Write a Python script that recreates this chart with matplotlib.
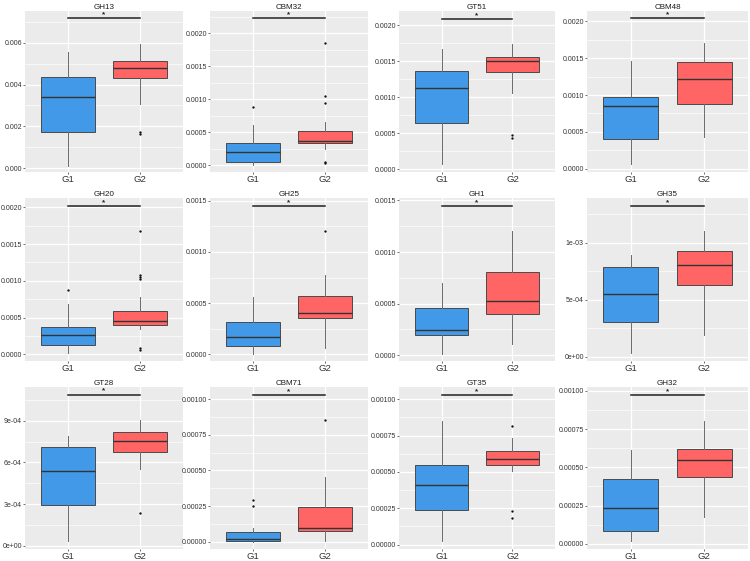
import matplotlib
matplotlib.use("Agg")
import matplotlib.pyplot as plt
from matplotlib.ticker import FixedLocator, FixedFormatter

# ---------------- data ----------------
panel_names = ["GH13", "CBM32", "GT51", "CBM48",
               "GH20", "GH25", "GH1", "GH35",
               "GT28", "CBM71", "GT35", "GH32"]
groups = ["G1", "G2"]

# per panel stats: [whislo, q1, median, q3, whishi]
g1_stats = [
    [0.00011, 0.00173, 0.00340, 0.00435, 0.00554],
    [0.00000, 0.00005, 0.00020, 0.000335, 0.00061],
    [0.00007, 0.000647, 0.00113, 0.00137, 0.00167],
    [0.000058, 0.000404, 0.000848, 0.000978, 0.001457],
    [0.0000226, 0.000122, 0.000267, 0.000367, 0.00069],
    [0.00000, 0.000078, 0.000166, 0.000313, 0.000564],
    [0.000016, 0.00020, 0.000248, 0.00046, 0.000698],
    [0.000029, 0.000307, 0.000547, 0.000792, 0.000898],
    [0.000031, 0.000295, 0.000538, 0.00071, 0.00079],
    [0.00000, 0.0000092, 0.000023, 0.0000716, 0.0000993],
    [0.0000226, 0.000238, 0.00041, 0.00055, 0.000853],
    [0.0000172, 0.000084, 0.000235, 0.000425, 0.000612],
]
g2_stats = [
    [0.00305, 0.00430, 0.00480, 0.00514, 0.00594],
    [0.00025, 0.000335, 0.000365, 0.000515, 0.00066],
    [0.00106, 0.001358, 0.00150, 0.00156, 0.00174],
    [0.00043, 0.000874, 0.00122, 0.001453, 0.00170],
    [0.000348, 0.000398, 0.00046, 0.000588, 0.00078],
    [0.000065, 0.000352, 0.000404, 0.000567, 0.000776],
    [0.000113, 0.000399, 0.000528, 0.000808, 0.001207],
    [0.000187, 0.000634, 0.000807, 0.000933, 0.001102],
    [0.000552, 0.000676, 0.000752, 0.000817, 0.000905],
    [0.0000092, 0.000076, 0.0000993, 0.000245, 0.000453],
    [0.000505, 0.000545, 0.00059, 0.000647, 0.000735],
    [0.000177, 0.000435, 0.000547, 0.000621, 0.000806],
]
g1_outliers = [
    [], [0.000875], [], [], [0.00088], [], [], [], [],
    [0.000291, 0.000249], [], [],
]
g2_outliers = [
    [0.00165, 0.00172],
    [0.00185, 0.00104, 0.00094, 0.000035, 0.00005],
    [0.00047, 0.00043],
    [],
    [0.00168, 0.00108, 0.00105, 0.00102, 0.00009, 0.000054],
    [0.001207],
    [], [],
    [0.000238],
    [0.000855],
    [0.000817, 0.000231, 0.000186],
    [],
]
sig_height = [0.00718, 0.002225, 0.00209, 0.002045, 0.00202, 0.001448,
              0.001448, 0.001327, 0.001088, 0.001028, 0.001027, 0.000972]
sig_label = "*"

y_ticks = [
    [0.000, 0.002, 0.004, 0.006],
    [0.0, 0.0005, 0.0010, 0.0015, 0.0020],
    [0.0, 0.0005, 0.0010, 0.0015, 0.0020],
    [0.0, 0.0005, 0.0010, 0.0015, 0.0020],
    [0.0, 0.0005, 0.0010, 0.0015, 0.0020],
    [0.0, 0.0005, 0.0010, 0.0015],
    [0.0, 0.0005, 0.0010, 0.0015],
    [0.0, 0.0005, 0.0010],
    [0.0, 0.0003, 0.0006, 0.0009],
    [0.0, 0.00025, 0.0005, 0.00075, 0.0010],
    [0.0, 0.00025, 0.0005, 0.00075, 0.0010],
    [0.0, 0.00025, 0.0005, 0.00075, 0.0010],
]
y_tick_labels = [
    ["0.000", "0.002", "0.004", "0.006"],
    ["0.0000", "0.0005", "0.0010", "0.0015", "0.0020"],
    ["0.0000", "0.0005", "0.0010", "0.0015", "0.0020"],
    ["0.0000", "0.0005", "0.0010", "0.0015", "0.0020"],
    ["0.0000", "0.0005", "0.0010", "0.0015", "0.0020"],
    ["0.0000", "0.0005", "0.0010", "0.0015"],
    ["0.0000", "0.0005", "0.0010", "0.0015"],
    ["0e+00", "5e-04", "1e-03"],
    ["0e+00", "3e-04", "6e-04", "9e-04"],
    ["0.00000", "0.00025", "0.00050", "0.00075", "0.00100"],
    ["0.00000", "0.00025", "0.00050", "0.00075", "0.00100"],
    ["0.00000", "0.00025", "0.00050", "0.00075", "0.00100"],
]
y_limits = [
    (-0.00019, 0.00752), (-0.000105, 0.002335), (-0.00004, 0.00220), (-0.000045, 0.00214),
    (-0.00009, 0.002127), (-0.000065, 0.001526), (-0.000055, 0.001523), (-0.000038, 0.001395),
    (-0.000024, 0.001143), (-0.00005, 0.001085), (-0.00003, 0.001084), (-0.0000345, 0.001026),
]

# ---------------- layout / style ----------------
W, H = 750, 561
col_x = [(25, 183), (210, 368), (399, 555), (587, 748)]
row_y = [(11, 172), (198, 361), (387, 549)]
colors = ["#4199E8", "#FF6565"]
bg = "#EBEBEB"

plt.rcParams["font.family"] = ["Liberation Sans", "DejaVu Sans"]
fig = plt.figure(figsize=(W / 100, H / 100), dpi=100)
fig.patch.set_facecolor("white")

for i, name in enumerate(panel_names):
    r, c = divmod(i, 4)
    x0, x1 = col_x[c]
    yt, yb = row_y[r]
    ax = fig.add_axes([x0 / W, 1 - yb / H, (x1 - x0) / W, (yb - yt) / H])
    ax.set_facecolor(bg)
    for s in ax.spines.values():
        s.set_visible(False)

    stats = []
    for st, fl, lab in ((g1_stats[i], g1_outliers[i], groups[0]),
                        (g2_stats[i], g2_outliers[i], groups[1])):
        stats.append(dict(whislo=st[0], q1=st[1], med=st[2], q3=st[3],
                          whishi=st[4], fliers=fl, label=lab))

    ticks = y_ticks[i]
    step = ticks[1] - ticks[0]
    minor = [t + step / 2 for t in ticks] + [ticks[0] - step / 2]
    ax.set_ylim(*y_limits[i])
    ax.set_xlim(0.4, 2.6)
    ax.yaxis.set_major_locator(FixedLocator(ticks))
    ax.yaxis.set_major_formatter(FixedFormatter(y_tick_labels[i]))
    ax.yaxis.set_minor_locator(FixedLocator(minor))
    ax.grid(True, which="major", color="white", linewidth=0.9)
    ax.grid(True, which="minor", axis="y", color="white", linewidth=0.45)
    ax.set_axisbelow(True)

    bp = ax.bxp(stats, positions=[1, 2], widths=0.75, patch_artist=True,
                showcaps=False,
                boxprops=dict(edgecolor="#4a4a4a", linewidth=0.7),
                whiskerprops=dict(color="#6a6a6a", linewidth=0.7),
                medianprops=dict(color="#333333", linewidth=1.0),
                flierprops=dict(marker="o", markersize=1.3,
                                markerfacecolor="#111111",
                                markeredgecolor="#111111",
                                markeredgewidth=0.3))
    for patch, col in zip(bp["boxes"], colors):
        patch.set_facecolor(col)
    for line in bp["whiskers"] + bp["medians"] + bp["boxes"]:
        line.set_zorder(3)

    ax.plot([1, 2], [sig_height[i], sig_height[i]], color="#222222",
            linewidth=1.1, zorder=4)
    ax.text(1.5, sig_height[i], sig_label, ha="center", va="bottom",
            fontsize=5.8, fontweight="bold", color="#222222", zorder=4)

    ax.set_title(name, fontsize=5.8, pad=1.5, color="#1A1A1A")
    ax.tick_params(axis="y", which="major", labelsize=5.0,
                   colors="#333333", length=1.5, width=0.5, pad=0.7)
    ax.tick_params(axis="x", which="major", labelsize=6.8,
                   colors="#333333", length=1.2, width=0.5, pad=0.8)
    ax.tick_params(which="minor", length=0)
    ax.set_xticks([1, 2])
    ax.set_xticklabels(groups)

fig.savefig("out.png", dpi=100, facecolor="white")
